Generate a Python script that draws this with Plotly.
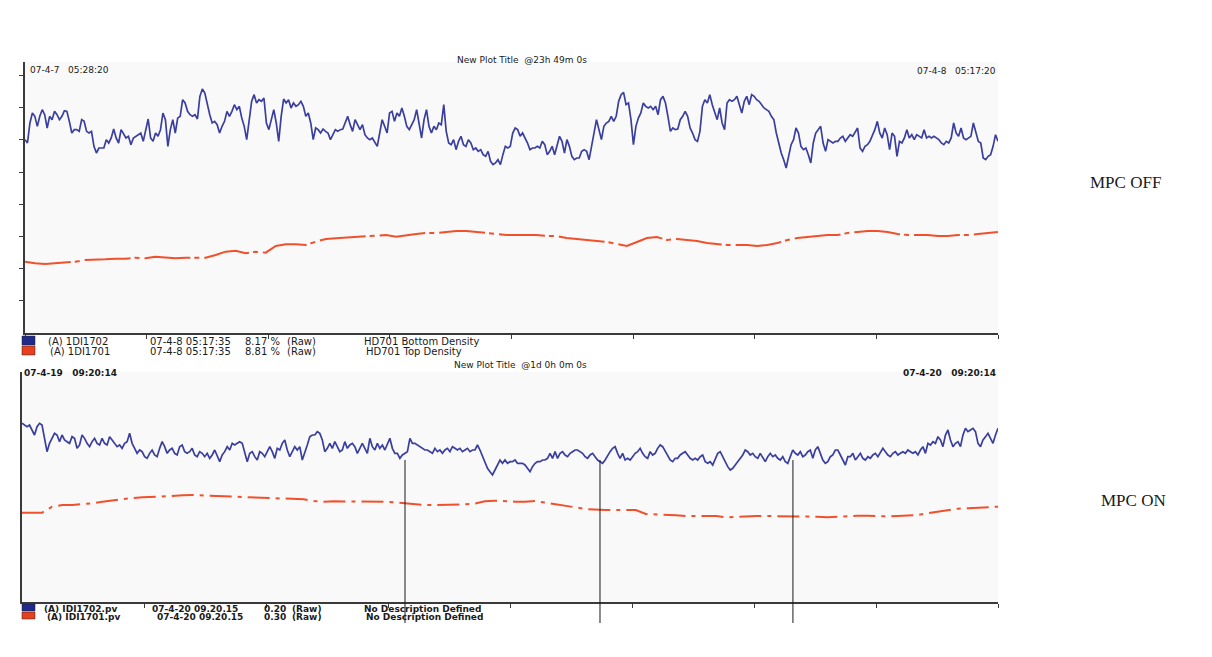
import pandas as pd
import plotly.graph_objects as go

# ---------------- data ----------------
top_start = "2007-04-07 05:28:20"
top_end = "2007-04-08 05:17:20"
bottom_start = "2007-04-19 09:20:14"
bottom_end = "2007-04-20 09:20:14"

# MPC OFF - 1DI1702 (bottom density), chart units
off_bottom_density = [
    58.0, 57.0, 63.0, 66.0, 65.0, 62.0, 65.0, 67.0, 65.5, 61.5, 65.0, 64.0, 66.5, 65.5, 64.0, 65.0,
    66.7, 66.5, 63.5, 60.0, 61.0, 61.0, 60.5, 64.0, 63.5, 60.5, 60.0, 60.5, 56.0, 54.0, 55.5, 55.5,
    55.5, 58.0, 57.0, 58.5, 61.2, 58.5, 57.0, 61.0, 59.5, 58.5, 59.0, 56.5, 58.5, 59.0, 59.5, 60.0,
    57.5, 61.0, 64.2, 58.5, 57.5, 60.0, 59.0, 61.0, 66.0, 64.0, 56.0, 61.0, 64.0, 60.0, 64.5, 65.0,
    70.0, 69.0, 66.5, 65.5, 65.0, 65.5, 64.2, 71.0, 73.2, 72.0, 68.5, 65.5, 63.0, 63.5, 62.5, 60.0,
    62.0, 63.5, 66.5, 65.0, 66.5, 68.5, 67.0, 68.0, 64.5, 62.0, 58.0, 63.0, 69.5, 71.5, 69.0, 70.0,
    69.5, 70.5, 63.0, 61.0, 64.0, 67.0, 63.0, 57.5, 65.0, 70.2, 69.0, 70.0, 67.5, 69.0, 68.0, 68.5,
    69.5, 68.0, 65.0, 66.0, 63.0, 58.0, 61.5, 61.0, 60.0, 61.2, 60.5, 60.0, 58.0, 59.5, 61.0, 60.5,
    61.0, 61.2, 63.0, 65.0, 62.5, 60.5, 64.0, 62.5, 61.0, 62.5, 59.5, 58.5, 58.0, 58.5, 57.0, 56.0,
    60.0, 64.0, 62.0, 60.0, 66.0, 66.5, 63.5, 66.0, 65.0, 67.5, 65.0, 62.0, 61.0, 62.5, 64.0, 67.0,
    63.0, 58.5, 64.0, 67.0, 62.0, 60.0, 62.0, 61.0, 63.0, 62.5, 68.5, 60.5, 57.0, 56.5, 58.0, 55.0,
    57.5, 59.0, 56.5, 56.0, 58.0, 57.0, 55.0, 55.5, 54.5, 55.0, 53.5, 53.0, 54.5, 51.5, 50.5, 51.0,
    52.0, 50.5, 53.5, 56.0, 55.5, 56.0, 60.0, 61.5,
    61.0, 59.0, 60.0, 58.5, 57.0, 55.0, 55.5, 55.5, 56.0, 55.5, 57.5, 56.5, 53.5, 54.5, 56.0, 53.5,
    56.5, 59.0, 57.5, 54.0, 58.0, 56.0, 53.0, 52.0, 52.5, 52.5, 54.5, 55.0, 54.5, 52.0, 56.0, 60.0,
    64.0, 61.0, 58.0, 62.0, 63.0, 63.5, 65.0, 63.5, 65.0, 69.5, 71.5, 72.2, 68.5, 69.0, 64.0, 56.5,
    62.0, 64.5, 66.0, 69.0, 68.0, 67.5, 68.0, 67.0, 68.0, 65.5, 70.0, 71.0, 69.0, 65.0, 60.5, 61.5,
    61.0, 61.2, 64.0, 65.0, 66.5, 65.0, 61.5, 60.0, 58.0, 57.5, 60.5, 68.0, 70.0, 69.0, 71.5, 68.5,
    66.0, 64.0, 67.5, 63.0, 61.0, 69.0, 70.0, 69.5, 70.0, 71.0, 68.5, 66.0, 69.5, 71.0, 68.5, 71.5,
    71.0, 70.0, 69.5, 68.5, 67.5, 67.0, 66.5, 65.0, 64.0, 60.0, 57.0, 54.0, 52.0, 49.5, 53.0, 56.5,
    58.0, 61.5, 60.0, 56.0, 55.0, 55.5, 53.5, 51.0, 57.0, 60.0, 61.0, 62.0, 57.0, 54.5, 58.0, 57.5,
    57.0, 57.5, 57.5, 58.5, 59.0, 57.5, 58.5, 59.5, 59.0, 60.5, 61.5, 55.5, 54.5, 56.0, 56.5, 57.5,
    59.0, 61.0, 63.5, 60.0, 58.5, 61.5, 59.5, 55.0, 60.0, 59.0, 53.0, 57.5, 57.0, 58.5, 61.0, 58.5,
    59.5, 58.0, 59.5, 59.0, 58.5, 61.0, 58.5, 59.0, 58.5, 59.0, 58.5, 58.0, 57.0, 56.5, 57.5, 57.0,
    58.5, 63.0, 60.0, 59.0, 61.5, 58.5, 58.0, 58.5, 59.0, 63.0, 60.0, 57.5, 57.0, 52.5, 52.0, 53.0,
    53.5, 56.0, 59.5, 57.5,
]

# MPC OFF - 1DI1701 (top density), chart units
off_top_density = [
    21.4, 20.9, 20.7, 20.9, 21.1, 21.4, 21.9, 21.9, 22.1, 22.3, 22.3, 22.6, 22.4, 22.9, 22.6, 22.4,
    22.6, 22.6, 22.6, 23.4, 24.4, 24.7, 23.9, 24.4, 24.1, 26.1, 26.6, 26.6, 26.4, 27.4, 28.2, 28.4,
    28.6, 28.7, 28.9, 29.1, 29.4, 28.9, 29.4, 29.7, 30.0, 30.0, 30.3, 30.6, 30.6, 30.3, 30.0, 29.7,
    29.4, 29.4, 29.4, 29.4, 29.1, 29.1, 28.5, 28.2, 27.9, 27.6, 27.3, 26.7, 26.1, 27.3, 28.5, 28.8,
    27.9, 28.2, 27.9, 27.6, 27.0, 26.7, 26.4, 26.4, 26.4, 26.1, 26.4, 27.0, 27.9, 28.5, 28.8, 29.1,
    29.4, 29.4, 30.0, 30.3, 30.6, 30.6, 30.3, 29.7, 29.4, 29.4, 29.4, 29.1, 29.1, 29.4, 29.4, 29.7,
    30.0, 30.3,
]

# MPC ON - IDI1702.pv, chart units
on_bottom_density = [
    53.6, 53.1, 52.6, 53.1, 51.6, 50.1, 52.6, 53.6, 53.1, 48.6, 45.1, 47.6, 49.1, 50.6, 50.1, 48.1,
    50.1, 48.6, 48.1, 47.6, 49.6, 49.1, 46.1, 47.1, 50.1, 49.1, 47.6, 46.6, 48.1, 49.1, 47.6, 47.1,
    49.1, 47.6, 47.1, 49.6, 48.6, 47.6, 46.6, 47.1, 46.1, 47.6, 48.1, 50.6, 47.6, 46.1, 44.6, 45.6,
    45.1, 43.6, 43.1, 44.6, 45.6, 44.1, 43.6, 46.1, 48.1, 46.6, 44.6, 45.6, 46.1, 44.6, 44.1, 46.6,
    47.1, 45.1, 44.6, 45.1, 46.1, 44.1, 43.6, 45.1, 44.6, 43.6, 44.6, 43.1, 44.1, 45.6, 43.6, 42.1,
    44.1, 45.1, 46.6, 45.6, 47.6, 47.1, 47.6, 48.1, 47.6, 44.6, 42.1, 44.6, 45.1, 43.6, 42.6, 45.1,
    44.6, 43.6, 45.1, 46.6, 45.1, 43.1, 46.1, 45.6, 47.6, 48.6, 45.6, 43.6, 45.1, 46.6, 45.6, 46.6,
    42.6, 44.6, 47.1, 49.6, 50.1, 50.1, 51.1, 50.6, 48.6, 45.1, 46.1, 47.6, 46.1, 48.1, 46.6, 45.1,
    45.6, 48.1, 46.1, 47.1, 47.6, 46.6, 44.6, 46.1, 47.6, 46.1, 44.6, 49.1, 46.6, 45.6, 47.6, 46.1,
    47.1, 45.6, 47.6, 49.1, 46.1, 44.6, 44.6, 43.1, 44.1, 44.6, 45.1, 49.1, 47.6, 47.6, 47.1, 46.6,
    46.1, 45.6, 45.6, 45.1, 44.6, 46.1, 45.1, 45.6, 44.6, 45.6, 46.1, 45.1, 46.6, 46.1, 45.6, 46.1,
    45.1, 45.6, 46.1, 45.1, 45.6, 45.6, 47.1, 45.6, 43.6, 42.1, 40.1, 39.1, 38.1, 39.6, 41.1, 42.6,
    41.6, 42.6, 41.6, 42.1, 42.1, 42.6, 41.6, 41.6,
    41.6, 41.1, 40.1, 39.1, 40.6, 41.6, 42.1, 42.1, 42.6, 42.6, 43.1, 44.6, 43.1, 45.1, 43.1, 44.6,
    45.1, 44.1, 43.6, 44.6, 45.1, 45.6, 45.6, 45.1, 44.6, 43.6, 43.1, 44.1, 44.6, 43.6, 42.6, 42.1,
    41.6, 42.6, 44.1, 45.1, 46.1, 46.6, 44.6, 43.1, 44.6, 42.6, 43.1, 42.6, 43.6, 44.6, 45.1, 46.1,
    44.6, 43.6, 43.1, 45.1, 44.1, 44.6, 46.1, 47.1, 46.6, 45.1, 43.6, 42.6, 42.1, 43.1, 43.1, 44.1,
    44.6, 45.1, 44.1, 43.1, 42.6, 43.1, 42.6, 43.6, 44.1, 42.1, 41.6, 42.1, 41.1, 42.6, 44.6, 45.1,
    43.6, 42.1, 40.6, 39.6, 40.1, 41.1, 42.1, 43.1, 44.1, 45.6, 45.1, 44.1, 44.6, 43.6, 43.1, 44.6,
    43.1, 42.1, 43.6, 44.6, 43.6, 44.1, 43.1, 42.6, 43.6, 42.1, 41.6, 43.6, 45.6, 44.6, 44.1, 45.1,
    43.6, 44.1, 45.1, 45.6, 43.1, 45.6, 46.6, 44.6, 42.6, 41.6, 42.1, 43.6, 44.1, 45.6, 45.6, 44.1,
    42.6, 41.1, 43.6, 43.6, 44.6, 42.6, 43.6, 44.6, 43.1, 42.6, 43.6, 43.1, 44.1, 44.6, 43.6, 45.1,
    46.1, 45.1, 44.1, 43.6, 44.6, 45.1, 44.1, 44.6, 45.1, 44.6, 45.6, 45.1, 44.6, 45.1, 44.1, 45.6,
    46.6, 44.6, 47.6, 47.1, 48.1, 47.6, 49.6, 48.6, 46.6, 50.1, 51.6, 48.6, 46.6, 47.6, 48.1, 46.6,
    50.1, 52.1, 51.1, 51.6, 52.1, 51.1, 47.6, 46.6, 48.6, 49.6, 50.6, 49.1, 47.6, 50.1, 52.1,
]

# MPC ON - IDI1701.pv, chart units
on_top_density = [
    26.8, 26.8, 26.8, 28.6, 29.1, 29.1, 29.3, 29.6, 30.1, 30.5, 30.9, 31.2, 31.4, 31.6, 31.7, 31.8,
    32.0, 32.1, 32.0, 31.9, 31.8, 31.7, 31.6, 31.4, 31.2, 31.1, 31.1, 31.0, 30.8, 30.3, 30.1, 30.2,
    30.2, 30.1, 30.1, 30.1, 30.1, 29.9, 29.6, 29.3, 29.1, 29.1, 29.1, 29.3, 29.3, 29.5, 30.2, 30.4,
    30.2, 30.1, 30.1, 30.3, 29.8, 29.4, 29.0, 28.4, 27.9, 27.7, 27.6, 27.6, 27.6, 27.6, 26.4, 26.3,
    26.3, 26.0, 25.8, 25.8, 25.8, 25.8, 25.4, 25.6, 25.8, 25.8, 25.8, 25.8, 25.8, 25.8, 25.8, 25.6,
    25.4, 25.6, 25.8, 25.9, 25.9, 25.7, 25.7, 25.8, 26.0, 26.1, 26.6, 27.1, 27.4, 28.0, 28.1, 28.2,
    28.4, 28.6,
]

marker_times = ["2007-04-19 18:45:20", "2007-04-19 23:33:00", "2007-04-20 04:17:40"]

top_legend_rows = [
    ["(A) 1DI1702", "07-4-8 05:17:35", "8.17 %", "(Raw)", "HD701 Bottom Density"],
    ["(A) 1DI1701", "07-4-8 05:17:35", "8.81 %", "(Raw)", "HD701 Top Density"],
]
bottom_legend_rows = [
    ["(A) IDI1702.pv", "07-4-20 09.20.15", "0.20", "(Raw)", "No Description Defined"],
    ["(A) IDI1701.pv", "07-4-20 09.20.15", "0.30", "(Raw)", "No Description Defined"],
]
top_title = "New Plot Title  @23h 49m 0s"
bottom_title = "New Plot Title  @1d 0h 0m 0s"
top_left_stamp = "07-4-7   05:28:20"
top_right_stamp = "07-4-8   05:17:20"
bottom_left_stamp = "07-4-19   09:20:14"
bottom_right_stamp = "07-4-20   09:20:14"
panel_labels = ["MPC OFF", "MPC ON"]

# ---------------- figure ----------------
OFF = 8                      # page body margin
W, H = 1212 - 2 * OFF, 657 - 2 * OFF
BLUE = "#3a3f9f"
RED = "#f0502c"
AX = "#3a3a3a"


def px(x):
    return (x - OFF) / W


def py(y):
    return 1 - (y - OFF) / H


def times(start, end, n):
    return pd.date_range(pd.Timestamp(start), pd.Timestamp(end), periods=n)


fig = go.Figure()
fig.add_trace(go.Scatter(x=times(top_start, top_end, len(off_bottom_density)), y=off_bottom_density,
                         mode="lines", line=dict(color=BLUE, width=1.7), xaxis="x", yaxis="y"))
fig.add_trace(go.Scatter(x=times(top_start, top_end, len(off_top_density)), y=off_top_density,
                         mode="lines", line=dict(color=RED, width=2, dash="46px,4px,5px,5px"),
                         xaxis="x", yaxis="y"))
fig.add_trace(go.Scatter(x=times(bottom_start, bottom_end, len(on_bottom_density)), y=on_bottom_density,
                         mode="lines", line=dict(color=BLUE, width=1.7), xaxis="x2", yaxis="y2"))
fig.add_trace(go.Scatter(x=times(bottom_start, bottom_end, len(on_top_density)), y=on_top_density,
                         mode="lines", line=dict(color=RED, width=2, dash="22px,6px,4px,6px"),
                         xaxis="x2", yaxis="y2"))

top_ticks = list(times(top_start, top_end, 9))
bottom_ticks = list(times(bottom_start, bottom_end, 9))

common_x = dict(showgrid=False, zeroline=False, showticklabels=False, showline=True,
                linecolor=AX, linewidth=1.5, ticks="outside", ticklen=4, tickcolor=AX)
common_y = dict(showgrid=False, zeroline=False, showticklabels=False, showline=True,
                linecolor=AX, linewidth=2)

fig.update_layout(
    width=W, height=H,
    margin=dict(l=0, r=0, t=0, b=0),
    paper_bgcolor="white",
    plot_bgcolor="#f9f9f9",
    showlegend=False,
    xaxis=dict(domain=[px(25), px(998)], anchor="y",
               range=[pd.Timestamp(top_start), pd.Timestamp(top_end)],
               tickvals=top_ticks, **common_x),
    yaxis=dict(domain=[py(333), py(62)], anchor="x", range=[0, 81.3],
               tickvals=[9.66 * k for k in range(1, 9)], ticks="outside", ticklen=4,
               tickcolor=AX, **common_y),
    xaxis2=dict(domain=[px(22), px(998)], anchor="y2",
                range=[pd.Timestamp(bottom_start), pd.Timestamp(bottom_end)],
                tickvals=bottom_ticks, **common_x),
    yaxis2=dict(domain=[py(602), py(372)], anchor="x2", range=[0, 69], ticks="", **common_y),
)

# vertical marker lines on the MPC ON chart
for t in marker_times:
    fig.add_shape(type="line", xref="x2", yref="paper", x0=t, x1=t, y0=py(623), y1=py(460),
                  line=dict(color="#1a1a1a", width=1))

FONT = dict(family="DejaVu Sans", size=9, color="#1a1a1a")
LFONT = dict(family="DejaVu Sans", size=10, color="#1a1a1a")
BFONT = dict(family="DejaVu Sans", size=9, color="#1a1a1a", weight="bold")


def text(x, y, s, anchor="left", font=FONT):
    fig.add_annotation(x=px(x), y=py(y), xref="paper", yref="paper", text=s, showarrow=False,
                       xanchor=anchor, yanchor="middle", font=font)


# header texts
text(28, 70, top_left_stamp)
text(522, 60, top_title, anchor="center")
text(998, 71, top_right_stamp, anchor="right")
text(22, 373, bottom_left_stamp, font=BFONT)
text(520, 365, bottom_title, anchor="center")
text(998, 373, bottom_right_stamp, anchor="right", font=BFONT)

# legends
col_x_top = [[46, 148, 243, 285, 362], [48, 148, 243, 285, 364]]
col_x_bot = [[42, 150, 262, 290, 362], [45, 155, 262, 290, 364]]
for row, cols, yy in zip(top_legend_rows, col_x_top, [341, 351]):
    for s, xx in zip(row, cols):
        text(xx, yy, s, font=LFONT)
for row, cols, yy in zip(bottom_legend_rows, col_x_bot, [609, 617]):
    for s, xx in zip(row, cols):
        text(xx, yy, s, font=BFONT)

# legend swatches
for (y0, y1, c) in [(336, 345, "#1f2a8a"), (346, 355, "#e8401f"), (604, 611, "#1f2a8a"), (612, 619, "#e8401f")]:
    fig.add_shape(type="rect", xref="paper", yref="paper", x0=px(22), x1=px(35), y0=py(y1), y1=py(y0),
                  fillcolor=c, line=dict(color="#202020", width=0.5))

# panel labels
SFONT = dict(family="Liberation Serif", size=17, color="#1a1a1a")
text(1125, 183, panel_labels[0], anchor="center", font=SFONT)
text(1133, 500, panel_labels[1], anchor="center", font=SFONT)

fig.write_html("out.html")
